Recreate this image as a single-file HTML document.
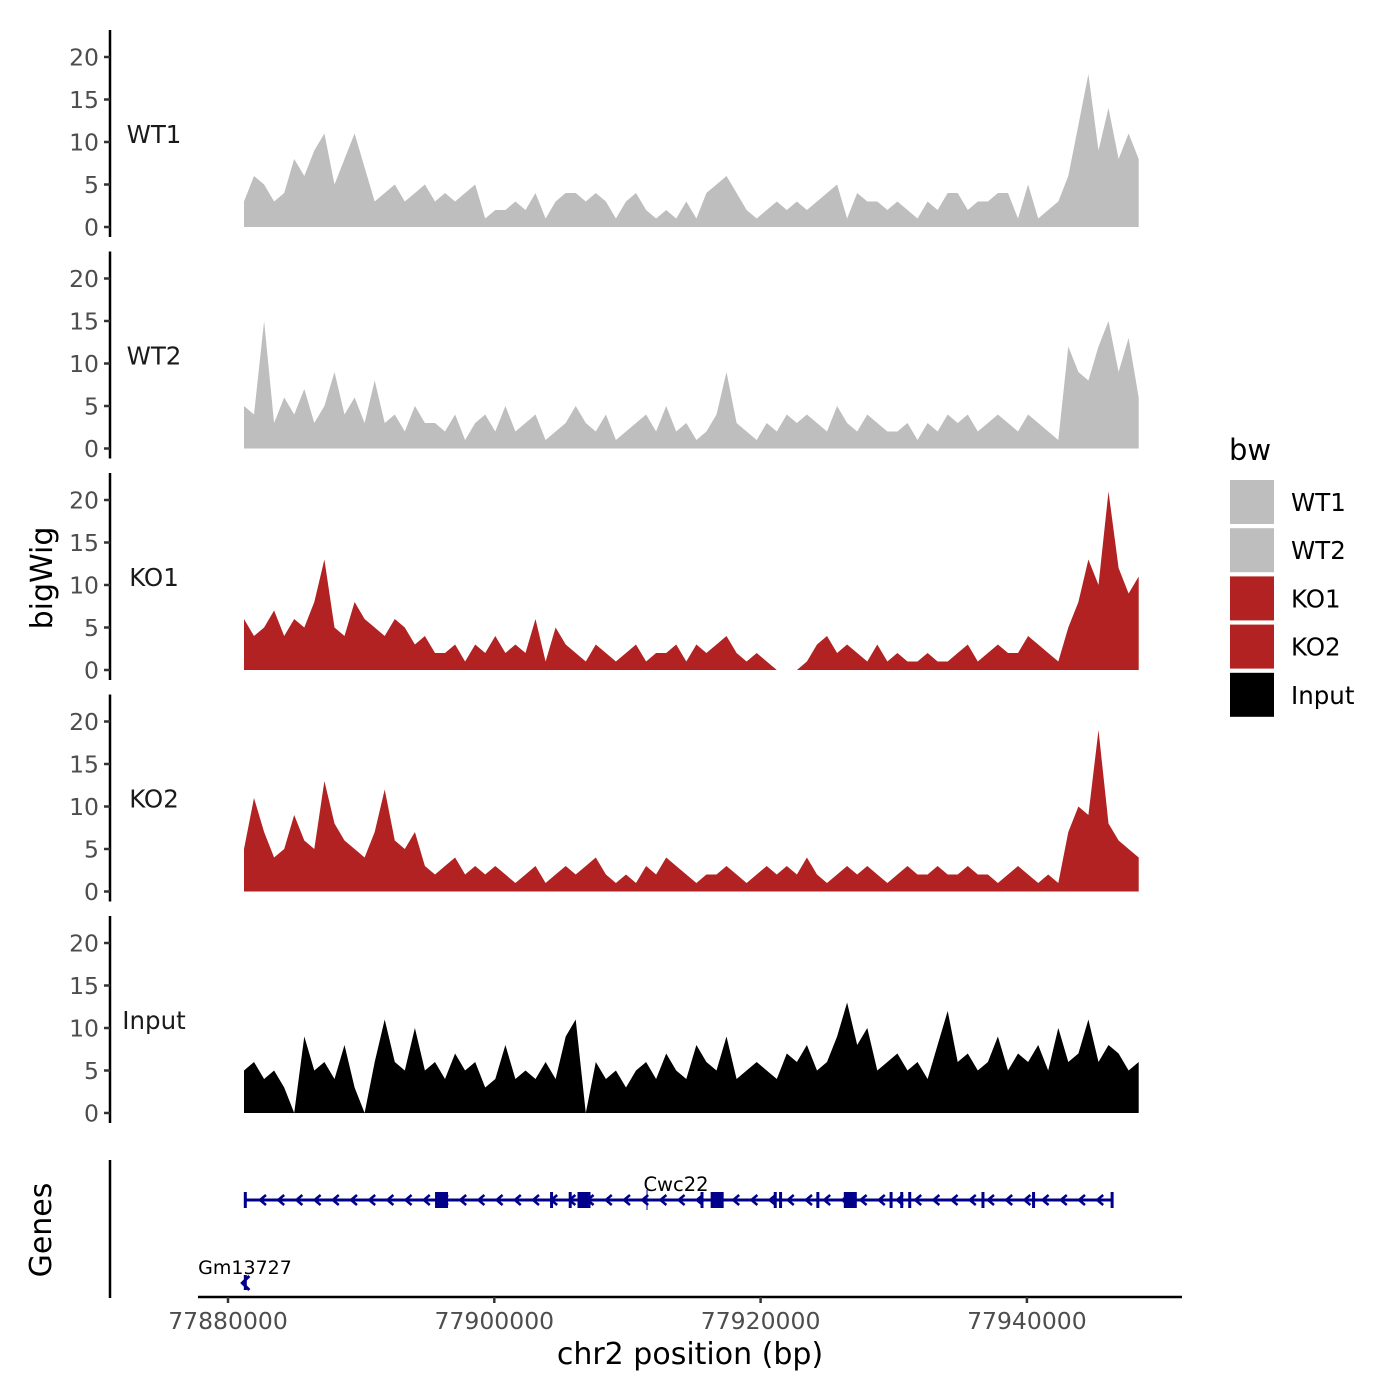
<!DOCTYPE html>
<html><head><meta charset="utf-8">
<style>
html,body{margin:0;padding:0;background:#fff;}
svg{display:block;font-family:"DejaVu Sans","Liberation Sans",sans-serif;}
.tick{font-size:23.5px;fill:#4d4d4d;}
</style></head>
<body>
<svg id="chart" width="1400" height="1400" viewBox="0 0 1400 1400" xmlns="http://www.w3.org/2000/svg">
  <rect width="1400" height="1400" fill="#fff"/>
  <g id="tracks"></g>
  <g id="genes"></g>
  <text x="52" y="578" font-size="30" fill="#000" text-anchor="middle" transform="rotate(-90 52 578)">bigWig</text>
  <text x="51" y="1230" font-size="30" fill="#000" text-anchor="middle" transform="rotate(-90 51 1230)">Genes</text>
  <text x="690" y="1364" font-size="30" fill="#000" text-anchor="middle">chr2 position (bp)</text>
  <g id="legend">
    <text x="1229" y="460" font-size="29" fill="#000">bw</text>
  </g>
</svg>
<script>
// ---- data ----
const binStart = 77881200;
const binStep = 755;
const trackNames = ["WT1","WT2","KO1","KO2","Input"];
const trackColors = ["#bebebe","#bebebe","#b22222","#b22222","#000000"];
const wt1Values = [3,6,5,3,4,8,6,9,11,5,8,11,7,3,4,5,3,4,5,3,4,3,4,5,1,2,2,3,2,4,1,3,4,4,3,4,3,1,3,4,2,1,2,1,3,1,4,5,6,4,2,1,2,3,2,3,2,3,4,5,1,4,3,3,2,3,2,1,3,2,4,4,2,3,3,4,4,1,5,1,2,3,6,12,18,9,14,8,11,8];
const wt2Values = [5,4,15,3,6,4,7,3,5,9,4,6,3,8,3,4,2,5,3,3,2,4,1,3,4,2,5,2,3,4,1,2,3,5,3,2,4,1,2,3,4,2,5,2,3,1,2,4,9,3,2,1,3,2,4,3,4,3,2,5,3,2,4,3,2,2,3,1,3,2,4,3,4,2,3,4,3,2,4,3,2,1,12,9,8,12,15,9,13,6];
const ko1Values = [6,4,5,7,4,6,5,8,13,5,4,8,6,5,4,6,5,3,4,2,2,3,1,3,2,4,2,3,2,6,1,5,3,2,1,3,2,1,2,3,1,2,2,3,1,3,2,3,4,2,1,2,1,0,0,0,1,3,4,2,3,2,1,3,1,2,1,1,2,1,1,2,3,1,2,3,2,2,4,3,2,1,5,8,13,10,21,12,9,11];
const ko2Values = [5,11,7,4,5,9,6,5,13,8,6,5,4,7,12,6,5,7,3,2,3,4,2,3,2,3,2,1,2,3,1,2,3,2,3,4,2,1,2,1,3,2,4,3,2,1,2,2,3,2,1,2,3,2,3,2,4,2,1,2,3,2,3,2,1,2,3,2,2,3,2,2,3,2,2,1,2,3,2,1,2,1,7,10,9,19,8,6,5,4];
const inputValues = [5,6,4,5,3,0,9,5,6,4,8,3,0,6,11,6,5,10,5,6,4,7,5,6,3,4,8,4,5,4,6,4,9,11,0,6,4,5,3,5,6,4,7,5,4,8,6,5,9,4,5,6,5,4,7,6,8,5,6,9,13,8,10,5,6,7,5,6,4,8,12,6,7,5,6,9,5,7,6,8,5,10,6,7,11,6,8,7,5,6];
const allValues = [wt1Values, wt2Values, ko1Values, ko2Values, inputValues];
const yTicks = [0,5,10,15,20];
const xTicks = [77880000,77900000,77920000,77940000];
const xTickLabels = ["77880000","77900000","77920000","77940000"];
// gene model
const geneCwc22 = {name:"Cwc22", start:77881200, end:77946500};
const cwc22Exons = [77896000, 77906700, 77916700, 77926700];
const cwc22SmallExons = [77881300,77904300,77905700,77915600,77921100,77921500,77924300,77929800,77930600,77931200,77936700,77940500,77946400];
const geneGm = {name:"Gm13727", start:77881300, end:77881500};

// ---- scales ----
function xScale(bp){ return 228 + (bp - 77880000) * 266.3 / 20000; }
const panelBase = [227, 448.5, 670, 891.5, 1113];
function yScale(v, p){ return panelBase[p] - v * 8.5; }

const NS = "http://www.w3.org/2000/svg";
function mk(tag, attrs, parent){ const e=document.createElementNS(NS,tag); for(const k in attrs) e.setAttribute(k,attrs[k]); parent.appendChild(e); return e; }

const tracks = document.getElementById("tracks");
for (let p=0; p<5; p++){
  const g = mk("g",{},tracks);
  
  
  const ax = mk("line",{x1:110,x2:110,y1:panelBase[p]-197,y2:panelBase[p]+10,stroke:"#000","stroke-width":2.5},g);
  
  
  yTicks.forEach(t=>{
    const y = yScale(t,p);
    mk("line",{x1:104,x2:110,y1:y,y2:y,stroke:"#333","stroke-width":2.5},g);
    const tx = mk("text",{x:99,y:y+8.5,"text-anchor":"end",class:"tick"},g);
    tx.textContent = t;
    
    
  });
  const lab = mk("text",{x:154,y:panelBase[p]-84,"text-anchor":"middle","font-size":24.5,fill:"#1a1a1a"},g);
  lab.textContent = trackNames[p];
  
  
  const vals = allValues[p];
  let d = "M" + xScale(binStart).toFixed(1) + "," + panelBase[p];
  vals.forEach((v,i)=>{ d += " L" + xScale(binStart + i*binStep).toFixed(1) + "," + yScale(v,p).toFixed(1); });
  d += " L" + xScale(binStart + (vals.length-1)*binStep).toFixed(1) + "," + panelBase[p] + " Z";
  const area = mk("path",{d:d,fill:trackColors[p]},g);
  
  
}

// genes panel
const gp = document.getElementById("genes");
mk("line",{x1:110,x2:110,y1:1160,y2:1298,stroke:"#000","stroke-width":2.5},gp);
const xa = mk("line",{x1:198,x2:1182,y1:1297,y2:1297,stroke:"#000","stroke-width":2.5},gp);


xTicks.forEach((t,i)=>{
  const x = xScale(t);
  mk("line",{x1:x,x2:x,y1:1297,y2:1303,stroke:"#333","stroke-width":2.5},gp);
  const tx = mk("text",{x:x,y:1329,"text-anchor":"middle",class:"tick"},gp);
  tx.textContent = xTickLabels[i];
  
  
});
const gy = 1200, col = "#00008b";
const gl = mk("line",{x1:xScale(geneCwc22.start),x2:xScale(geneCwc22.end),y1:gy,y2:gy,stroke:col,"stroke-width":3},gp);


for (let x = xScale(geneCwc22.start)+18; x < xScale(geneCwc22.end)-6; x += 18.2){
  mk("path",{d:`M${x+4},${gy-5} L${x-2},${gy} L${x+4},${gy+5}`,stroke:col,"stroke-width":2.5,fill:"none"},gp);
}
cwc22Exons.forEach(b=>{
  const ex = mk("rect",{x:xScale(b)-6,y:gy-8,width:13,height:16,fill:col},gp);
  
  
});
cwc22SmallExons.forEach(b=>{
  mk("rect",{x:xScale(b)-1.5,y:gy-8,width:3,height:16,fill:col},gp);
});
mk("line",{x1:647,x2:647,y1:gy-10,y2:gy+10,stroke:col,"stroke-width":1},gp);
const cl = mk("text",{x:676,y:1191,"text-anchor":"middle","font-size":19.5,fill:"#000"},gp);
cl.textContent = geneCwc22.name;


const gx = xScale(geneGm.start);
const gm = mk("path",{d:`M${gx+4},${1276} L${gx-3},${1283} L${gx+4},${1290} M${gx},${1275} L${gx},${1290}`,stroke:col,"stroke-width":3,fill:"none"},gp);


const gml = mk("text",{x:245,y:1274,"text-anchor":"middle","font-size":19,fill:"#000"},gp);
gml.textContent = geneGm.name;



// legend
const lg = document.getElementById("legend");
trackNames.forEach((n,i)=>{
  const y = 480 + i*48.2;
  const r = mk("rect",{x:1230,y:y,width:44,height:44,fill:trackColors[i]},lg);
  
  
  const t = mk("text",{x:1291,y:y+31,"font-size":24.5,fill:"#000"},lg);
  t.textContent = n;
  
  
});
</script>
</body></html>
